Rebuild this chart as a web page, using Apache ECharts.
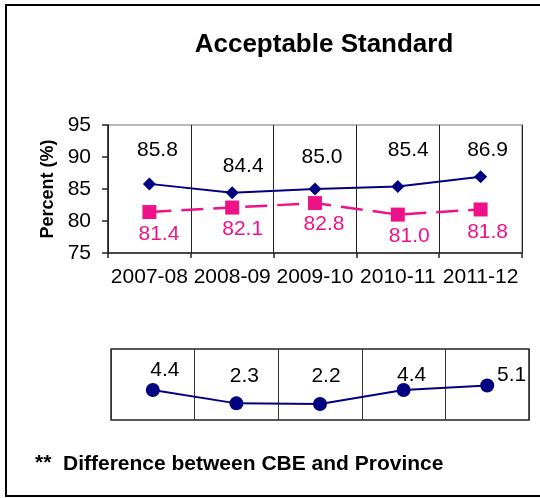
<!DOCTYPE html>
<html>
<head>
<meta charset="utf-8">
<script src="https://cdn.jsdelivr.net/npm/echarts@6/dist/echarts.min.js"></script>
<style>
html,body{margin:0;padding:0;background:#fff;}
#c{width:540px;height:498px;}
</style>
</head>
<body>
<div id="c"></div>
<script>
// ---- data ----
const categories = ['2007-08', '2008-09', '2009-10', '2010-11', '2011-12'];
const cbeValues = [85.8, 84.4, 85.0, 85.4, 86.9];
const provinceValues = [81.4, 82.1, 82.8, 81.0, 81.8];
const differenceValues = [4.4, 2.3, 2.2, 4.4, 5.1];
const yTickMin = 75, yTickMax = 95, yTickStep = 5;
const titleText = 'Acceptable Standard';
const yAxisTitle = 'Percent (%)';
const footnoteMark = '**';
const footnoteText = 'Difference between CBE and Province';

// ---- label offsets (style only) ----
const cbeLabelOffsets = [[8, -34], [11, -27], [7, -31.5], [10.5, -36], [7, -27]];
const provLabelOffsets = [[9.5, 22.5], [10.5, 22], [9, 21.5], [11.5, 22], [7, 22.5]];
const diffLabelOffsets = [[12, -20], [8, -27.5], [6, -27.5], [8, -15], [24.5, -10.5]];

const FONT = '"Liberation Sans", Arial, Helvetica, sans-serif';
const BLUE = '#000080';
const PINK = '#EE1289';

function withOffsets(values, offsets) {
  return values.map((v, i) => ({ value: v, label: { offset: offsets[i] } }));
}

const chart = echarts.init(document.getElementById('c'), null, { renderer: 'canvas' });
chart.setOption({
  backgroundColor: '#fff',
  animation: false,
  textStyle: { fontFamily: FONT },
  graphic: [
    { type: 'rect', shape: { x: 6, y: 5, width: 620, height: 491 }, style: { fill: null, stroke: '#000', lineWidth: 2 }, silent: true },
    { type: 'text', x: 324, y: 45, style: { text: titleText, font: 'bold 26px ' + FONT, fill: '#000', align: 'center', verticalAlign: 'middle' } },
    { type: 'text', x: 35, y: 463, style: { text: footnoteMark, font: 'bold 21px ' + FONT, fill: '#000', align: 'left', verticalAlign: 'middle' } },
    { type: 'text', x: 63, y: 464, style: { text: footnoteText, font: 'bold 21px ' + FONT, fill: '#000', align: 'left', verticalAlign: 'middle' } }
  ],
  grid: [
    { left: 108, top: 125, width: 414, height: 128, show: true, borderColor: '#a0a0a0', borderWidth: 1.5, backgroundColor: 'transparent' },
    { left: 111, top: 349, width: 418, height: 71, show: true, borderColor: '#222', borderWidth: 1.5, backgroundColor: 'transparent' }
  ],
  xAxis: [
    {
      gridIndex: 0, type: 'category', data: categories, boundaryGap: true,
      axisLine: { show: true, lineStyle: { color: '#222', width: 1.5 } },
      axisTick: { show: true, alignWithLabel: false, length: 5, lineStyle: { color: '#222', width: 1.5 } },
      axisLabel: { color: '#000', fontSize: 21, margin: 14, fontFamily: FONT, interval: 0 },
      splitLine: { show: true, lineStyle: { color: '#222', width: 1 } }
    },
    {
      gridIndex: 1, type: 'category', data: categories, boundaryGap: true,
      axisLine: { show: false }, axisTick: { show: false }, axisLabel: { show: false },
      splitLine: { show: true, lineStyle: { color: '#333', width: 1 } }
    }
  ],
  yAxis: [
    {
      gridIndex: 0, type: 'value', min: yTickMin, max: yTickMax, interval: yTickStep,
      axisLine: { show: true, lineStyle: { color: '#222', width: 1.5 } },
      axisTick: { show: true, length: 6, lineStyle: { color: '#222', width: 1.5 } },
      axisLabel: { color: '#000', fontSize: 21, margin: 17, fontFamily: FONT },
      splitLine: { show: false },
      name: yAxisTitle, nameLocation: 'middle', nameRotate: 90, nameGap: 50,
      nameTextStyle: { color: '#000', fontSize: 18, fontWeight: 'bold', fontFamily: FONT, padding: [0, 0, 0, 0] }
    },
    {
      gridIndex: 1, type: 'value', min: -0.3, max: 10.8, show: false,
      splitLine: { show: false }
    }
  ],
  series: [
    {
      type: 'line', xAxisIndex: 0, yAxisIndex: 0, data: withOffsets(cbeValues, cbeLabelOffsets),
      symbol: 'diamond', symbolSize: 13,
      lineStyle: { color: BLUE, width: 2 }, itemStyle: { color: BLUE },
      label: { show: true, position: 'inside', color: '#000', fontSize: 21, fontFamily: FONT, formatter: p => p.value.toFixed(1) }
    },
    {
      type: 'line', xAxisIndex: 0, yAxisIndex: 0, data: withOffsets(provinceValues, provLabelOffsets),
      symbol: 'rect', symbolSize: 14,
      lineStyle: { color: PINK, width: 2.5, type: [22, 10] }, itemStyle: { color: PINK },
      label: { show: true, position: 'inside', color: PINK, fontSize: 21, fontFamily: FONT, formatter: p => p.value.toFixed(1) }
    },
    {
      type: 'line', xAxisIndex: 1, yAxisIndex: 1, data: withOffsets(differenceValues, diffLabelOffsets),
      symbol: 'circle', symbolSize: 14,
      lineStyle: { color: BLUE, width: 2 }, itemStyle: { color: BLUE },
      label: { show: true, position: 'inside', color: '#000', fontSize: 21, fontFamily: FONT, formatter: p => p.value.toFixed(1) }
    }
  ]
});
</script>
</body>
</html>
